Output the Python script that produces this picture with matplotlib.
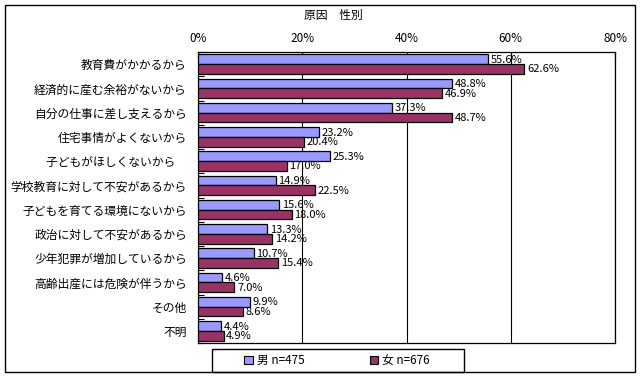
import matplotlib
matplotlib.use('Agg')
import matplotlib.pyplot as plt
from matplotlib.patches import Rectangle, Patch
import numpy as np

plt.rcParams['font.family'] = ['Noto Sans CJK JP', 'DejaVu Sans']

# data
reasons = ['教育費がかかるから', '経済的に産む余裕がないから', '自分の仕事に差し支えるから',
           '住宅事情がよくないから', '子どもがほしくないから\u3000', '学校教育に対して不安があるから',
           '子どもを育てる環境にないから', '政治に対して不安があるから', '少年犯罪が増加しているから',
           '高齢出産には危険が伴うから', 'その他', '不明']
male = [55.6, 48.8, 37.3, 23.2, 25.3, 14.9, 15.6, 13.3, 10.7, 4.6, 9.9, 4.4]
female = [62.6, 46.9, 48.7, 20.4, 17.0, 22.5, 18.0, 14.2, 15.4, 7.0, 8.6, 4.9]
male_label = '男 n=475'
female_label = '女 n=676'
title = '原因\u3000性別'

W, H = 641, 377
fig = plt.figure(figsize=(W / 100, H / 100), dpi=100)
ax = fig.add_axes([198 / W, 1 - 343 / H, (615 - 198) / W, (343 - 52) / H])

c_m = '#9999FF'
c_f = '#993366'
fs = 8.5
y = np.arange(len(reasons))
bh = 0.4
ax.barh(y - bh / 2, male, height=bh, color=c_m, edgecolor='black', linewidth=0.9, zorder=3)
ax.barh(y + bh / 2, female, height=bh, color=c_f, edgecolor='black', linewidth=0.9, zorder=3)
for i in range(len(reasons)):
    ax.text(male[i] + 0.5, y[i] - bh / 2 + 0.02, '%.1f%%' % male[i], va='center', ha='left',
            fontsize=8, zorder=4)
    ax.text(female[i] + 0.5, y[i] + bh / 2 + 0.02, '%.1f%%' % female[i], va='center', ha='left',
            fontsize=8, zorder=4)

ax.set_xlim(0, 80)
ax.set_ylim(len(reasons) - 0.5, -0.5)
ax.set_xticks([0, 20, 40, 60, 80])
ax.set_xticklabels(['0%', '20%', '40%', '60%', '80%'], fontsize=fs)
ax.xaxis.tick_top()
ax.tick_params(axis='x', direction='in', length=4, pad=5, width=0.8)
ax.set_yticks(y)
ax.set_yticklabels(reasons, fontsize=fs)
ax.tick_params(axis='y', length=0, pad=8)
ax.set_yticks(np.arange(len(reasons) + 1) - 0.5, minor=True)
ax.tick_params(axis='y', which='minor', direction='in', length=4, width=0.8)
ax.grid(axis='x', color='black', linewidth=0.8, zorder=0)
for s in ax.spines.values():
    s.set_linewidth(0.9)

fig.text(333 / W, 1 - 15 / H, title, ha='center', va='center', fontsize=fs)

# outer frame and legend box
fig.patches.append(Rectangle((5 / W, 1 - 372 / H), 630 / W, 367 / H, transform=fig.transFigure,
                             fill=False, edgecolor='black', linewidth=1))
fig.patches.append(Rectangle((212 / W, 1 - 372 / H), 252 / W, 23 / H, transform=fig.transFigure,
                             fill=False, edgecolor='black', linewidth=1))
handles = [Patch(facecolor=c_m, edgecolor='black', linewidth=0.8, label=male_label),
           Patch(facecolor=c_f, edgecolor='black', linewidth=0.8, label=female_label)]
fig.legend(handles=handles, loc='center', bbox_to_anchor=(337 / W, 1 - 360.5 / H), ncol=2,
           frameon=False, fontsize=fs, handlelength=0.75, handleheight=0.75,
           handletextpad=0.3, columnspacing=5.5)

fig.savefig('out.png', dpi=100)
